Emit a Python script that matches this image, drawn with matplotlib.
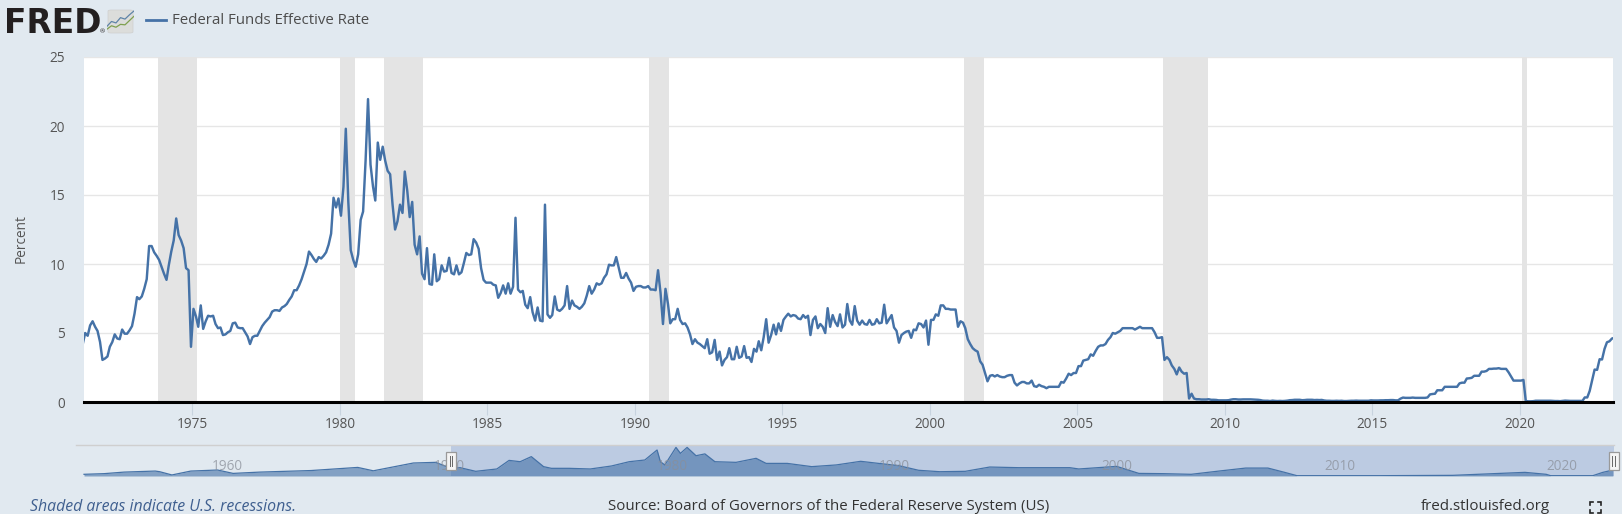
#!/usr/bin/env python3
"""
FRED chart: Federal Funds Effective Rate with recession bands and navigator
"""

import matplotlib
matplotlib.use("Agg")
import matplotlib.pyplot as plt
import matplotlib.dates as mdates
from matplotlib.patches import FancyBboxPatch, Rectangle
from matplotlib.lines import Line2D
import pandas as pd

# monthly values, first row starts at 1971-04, all others Jan..Dec
rates = [
    4.2, 5.0, 4.8, 5.55, 5.85, 5.45, 5.15, 4.35, 3.05,  # 1971
    3.15, 3.3, 4.0, 4.35, 4.9, 4.6, 4.55, 5.25, 4.95, 4.95, 5.2, 5.5,  # 1972
    6.4, 7.6, 7.45, 7.65, 8.2, 8.9, 11.3, 11.3, 10.85, 10.6, 10.3, 9.8,  # 1973
    9.3, 8.85, 9.9, 10.9, 11.7, 13.3, 12.1, 11.7, 11.15, 9.7, 9.55, 4.0,  # 1974
    6.75, 6.2, 5.45, 7.0, 5.3, 5.85, 6.25, 6.2, 6.25, 5.65, 5.35, 5.4,  # 1975
    4.85, 4.9, 5.05, 5.15, 5.7, 5.75, 5.4, 5.35, 5.35, 5.05, 4.75, 4.2,  # 1976
    4.7, 4.8, 4.8, 5.15, 5.5, 5.75, 5.95, 6.15, 6.55, 6.65, 6.65, 6.6,  # 1977
    6.85, 6.95, 7.1, 7.4, 7.65, 8.1, 8.1, 8.45, 8.9, 9.45, 10.0, 10.9,  # 1978
    10.65, 10.35, 10.15, 10.5, 10.4, 10.6, 10.85, 11.4, 12.2, 14.8, 14.1, 14.75,  # 1979
    13.5, 15.6, 19.8, 14.5, 11.0, 10.3, 9.8, 10.7, 13.2, 13.8, 17.5, 21.95,  # 1980
    17.2, 15.6, 14.6, 18.8, 17.55, 18.5, 17.5, 16.75, 16.5, 14.3, 12.5, 13.1,  # 1981
    14.3, 13.7, 16.7, 15.3, 13.4, 14.5, 11.4, 10.7, 12.0, 9.3, 8.9, 11.15,  # 1982
    8.55, 8.5, 10.7, 8.75, 8.9, 9.9, 9.45, 9.5, 10.45, 9.35, 9.25, 9.9,  # 1983
    9.25, 9.4, 10.05, 10.8, 10.65, 10.7, 11.8, 11.55, 11.1, 9.7, 8.85, 8.65,  # 1984
    8.65, 8.65, 8.5, 8.45, 7.55, 7.9, 8.45, 7.85, 8.6, 7.85, 8.35, 13.35,  # 1985
    8.15, 7.95, 8.05, 7.05, 6.8, 7.6, 6.5, 5.9, 6.85, 5.9, 5.85, 14.3,  # 1986
    6.35, 6.1, 6.3, 7.65, 6.7, 6.6, 6.75, 7.0, 8.4, 6.75, 7.35, 7.0,  # 1987
    6.9, 6.75, 6.9, 7.15, 7.7, 8.4, 7.85, 8.15, 8.6, 8.5, 8.6, 9.0,  # 1988
    9.25, 9.95, 9.9, 9.9, 10.5, 9.75, 9.0, 9.0, 9.35, 8.95, 8.65, 8.05,  # 1989
    8.35, 8.4, 8.4, 8.3, 8.3, 8.4, 8.15, 8.15, 8.1, 9.55, 7.9, 5.65,  # 1990
    8.2, 7.1, 5.7, 6.0, 6.0, 6.75, 5.95, 5.65, 5.7, 5.4, 4.9, 4.2,  # 1991
    4.55, 4.3, 4.2, 4.05, 3.9, 4.55, 3.5, 3.6, 4.5, 3.05, 3.65, 2.65,  # 1992
    3.05, 3.25, 3.9, 3.1, 3.1, 4.0, 3.2, 3.3, 4.05, 3.2, 3.25, 2.9,  # 1993
    3.85, 3.65, 4.4, 3.75, 4.7, 6.0, 4.3, 4.85, 5.6, 4.9, 5.7, 5.15,  # 1994
    5.95, 6.2, 6.4, 6.2, 6.3, 6.25, 6.05, 6.0, 6.3, 6.1, 6.25, 4.85,  # 1995
    5.95, 6.2, 5.35, 5.65, 5.45, 5.0, 6.8, 5.45, 6.3, 5.8, 5.5, 6.35,  # 1996
    5.4, 5.6, 7.1, 5.9, 5.6, 6.95, 5.9, 5.6, 5.9, 5.65, 5.6, 5.95,  # 1997
    5.6, 5.65, 6.0, 5.7, 5.75, 7.05, 5.7, 6.0, 6.3, 5.4, 5.15, 4.3,  # 1998
    4.85, 5.0, 5.1, 5.15, 4.65, 5.25, 5.2, 5.7, 5.65, 5.4, 5.9, 4.15,  # 1999
    5.95, 5.95, 6.35, 6.25, 7.0, 7.0, 6.75, 6.75, 6.7, 6.7, 6.7, 5.45,  # 2000
    5.85, 5.75, 5.35, 4.55, 4.2, 3.9, 3.75, 3.65, 2.95, 2.7, 2.1, 1.5,  # 2001
    1.9, 1.95, 1.85, 1.95, 1.85, 1.8, 1.8, 1.9, 1.95, 1.95, 1.4, 1.2,  # 2002
    1.35, 1.45, 1.45, 1.35, 1.35, 1.55, 1.15, 1.1, 1.25, 1.15, 1.1, 1.0,  # 2003
    1.1, 1.1, 1.1, 1.1, 1.1, 1.45, 1.4, 1.7, 2.05, 1.95, 2.1, 2.1,  # 2004
    2.6, 2.6, 3.0, 3.05, 3.1, 3.45, 3.35, 3.7, 4.0, 4.1, 4.1, 4.2,  # 2005
    4.5, 4.7, 5.0, 4.95, 5.05, 5.15, 5.35, 5.35, 5.35, 5.35, 5.35, 5.25,  # 2006
    5.35, 5.45, 5.35, 5.35, 5.35, 5.35, 5.35, 5.05, 4.65, 4.65, 4.7, 3.05,  # 2007
    3.25, 3.05, 2.65, 2.4, 2.0, 2.5, 2.2, 2.05, 2.1, 0.25, 0.6, 0.25,  # 2008
    0.2, 0.2, 0.18, 0.18, 0.18, 0.2, 0.16, 0.16, 0.15, 0.12, 0.12, 0.12,  # 2009
    0.12, 0.13, 0.17, 0.2, 0.2, 0.18, 0.18, 0.19, 0.19, 0.19, 0.19, 0.18,  # 2010
    0.17, 0.16, 0.14, 0.1, 0.09, 0.09, 0.07, 0.1, 0.08, 0.07, 0.08, 0.07,  # 2011
    0.08, 0.1, 0.13, 0.14, 0.16, 0.16, 0.16, 0.13, 0.14, 0.16, 0.16, 0.16,  # 2012
    0.14, 0.15, 0.14, 0.15, 0.11, 0.09, 0.09, 0.08, 0.08, 0.09, 0.08, 0.09,  # 2013
    0.07, 0.07, 0.08, 0.09, 0.09, 0.1, 0.09, 0.09, 0.09, 0.09, 0.09, 0.12,  # 2014
    0.11, 0.11, 0.11, 0.12, 0.12, 0.13, 0.13, 0.14, 0.14, 0.12, 0.12, 0.24,  # 2015
    0.32, 0.3, 0.3, 0.3, 0.32, 0.3, 0.3, 0.3, 0.3, 0.3, 0.33, 0.55,  # 2016
    0.58, 0.6, 0.85, 0.85, 0.85, 1.1, 1.1, 1.1, 1.1, 1.1, 1.1, 1.35,  # 2017
    1.4, 1.4, 1.7, 1.72, 1.75, 1.9, 1.9, 1.9, 2.2, 2.2, 2.25, 2.4,  # 2018
    2.4, 2.42, 2.42, 2.45, 2.4, 2.4, 2.4, 2.15, 1.85, 1.55, 1.55, 1.55,  # 2019
    1.55, 1.6, 0.07, 0.05, 0.05, 0.06, 0.09, 0.09, 0.09, 0.09, 0.09, 0.09,  # 2020
    0.09, 0.08, 0.07, 0.07, 0.06, 0.08, 0.1, 0.09, 0.08, 0.08, 0.08, 0.08,  # 2021
    0.08, 0.08, 0.33, 0.33, 0.8, 1.6, 2.35, 2.33, 3.1, 3.08, 3.85, 4.33,  # 2022
    4.4, 4.6, 4.65,  # 2023
]

recessions = [
    ("1973-11-01", "1975-03-01"),
    ("1980-01-01", "1980-07-01"),
    ("1981-07-01", "1982-11-01"),
    ("1990-07-01", "1991-03-01"),
    ("2001-03-01", "2001-11-01"),
    ("2007-12-01", "2009-06-01"),
    ("2020-02-01", "2020-04-01"),
]

y_ticks = [0, 5, 10, 15, 20, 25]
x_tick_years = [1975, 1980, 1985, 1990, 1995, 2000, 2005, 2010, 2015, 2020]
nav_tick_years = [1960, 1970, 1980, 1990, 2000, 2010, 2020]

# smoothed series in the navigator strip
nav_years = [1954.5, 1955.4, 1956.3, 1957.7, 1957.9, 1958.45, 1959.3, 1960.5, 1961.2,
             1962.4, 1964.7, 1966.8, 1967.5, 1968.4, 1969.3, 1970.3, 1971.0, 1971.4,
             1972.1, 1973.05, 1973.6, 1974.1, 1974.6, 1975.15, 1975.5, 1976.3, 1977.25,
             1978.2, 1979.0, 1979.7, 1980.25, 1980.4, 1980.6, 1981.1, 1981.3, 1981.6,
             1982.0, 1982.4, 1982.85, 1983.8, 1984.7, 1985.15, 1986.1, 1987.2, 1988.3,
             1989.4, 1990.2, 1991.1, 1992.0, 1992.95, 1994.1, 1995.2, 1996.5, 1998.8,
             1999.2, 2000.9, 2001.9, 2003.0, 2004.25, 2005.5, 2006.7, 2007.7, 2008.45,
             2009.0, 2012.75, 2016.0, 2019.25, 2020.2, 2020.4, 2022.3, 2022.75, 2023.2]
nav_rates = [1.3, 1.8, 3.0, 3.8, 3.3, 0.8, 3.8, 4.6, 2.0,
             3.0, 4.2, 6.6, 4.0, 7.0, 10.0, 10.5, 5.9, 6.4,
             3.6, 5.4, 12.0, 11.0, 14.9, 7.2, 5.9, 5.9, 5.4,
             7.7, 11.0, 12.3, 20.0, 11.0, 8.5, 22.0, 17.4, 22.0,
             15.6, 17.0, 11.0, 10.5, 13.6, 9.7, 9.7, 7.2, 8.5,
             11.3, 9.7, 8.0, 4.4, 3.3, 3.6, 6.9, 6.4, 6.4,
             5.4, 7.4, 2.0, 1.8, 1.3, 3.8, 6.1, 6.1, 2.8,
             0.25, 0.25, 0.5, 2.8, 1.3, 0.25, 0.25, 2.8, 4.6]

# the little chart tile next to the logo
icon_x = [0, 1, 2, 3, 4, 5, 6]
icon_blue = [1.2, 2.2, 1.9, 3.0, 2.7, 3.6, 4.4]
icon_green = [0.6, 1.3, 1.0, 1.6, 1.5, 2.4, 3.3]

BG = "#E1E9F0"
LINE = "#4572A7"
W, H = 1622, 517

plt.rcParams["font.family"] = ["Open Sans", "DejaVu Sans"]


def box(left, top, right, bottom):
    """pixel box (y down) to figure fractions"""
    return [left / W, 1 - bottom / H, (right - left) / W, (bottom - top) / H]


def fx(x):
    return x / W


def fy(y):
    return 1 - y / H


def year_date(y):
    return pd.Timestamp("1900-01-01") + pd.Timedelta(days=(y - 1900) * 365.25)


fig = plt.figure(figsize=(W / 100, H / 100), dpi=100, facecolor=BG)

# main chart
ax = fig.add_axes(box(84, 57, 1613, 402))
dates = pd.date_range("1971-04-01", periods=len(rates), freq="MS") + pd.Timedelta(days=14)
for start, end in recessions:
    ax.axvspan(pd.Timestamp(start), pd.Timestamp(end), color="#E4E4E4", lw=0, zorder=2)
ax.plot(dates, rates, color=LINE, lw=1.75, zorder=4)
ax.axhline(0, color="#000000", lw=2.2, clip_on=False, zorder=5)

ax.set_xlim(year_date(1971.325), year_date(2023.156))
ax.set_ylim(0, 25)
ax.set_yticks(y_ticks)
ax.set_xticks([pd.Timestamp(f"{y}-01-01") for y in x_tick_years])
ax.xaxis.set_major_formatter(mdates.DateFormatter("%Y"))
ax.grid(True, axis="y", color="#E6E6E6", lw=1, zorder=1)
ax.set_axisbelow(True)
for side in ax.spines:
    ax.spines[side].set_visible(False)
ax.tick_params(axis="y", length=0, pad=13.5, labelsize=9.8, labelcolor="#555555")
ax.tick_params(axis="x", length=9, width=0.8, color="#C8D4DF", pad=1.5,
               labelsize=9.8, labelcolor="#555555")
fig.text(fx(21), fy(239), "Percent", rotation=90, ha="center", va="center",
         fontsize=9.8, color="#555555")

# navigator strip
nav = fig.add_axes(box(76, 445, 1614, 476), facecolor=BG, zorder=1)
nav.axvspan(1971.0, 2023.25, color="#BCCBE2", lw=0, zorder=1)
nav.fill_between(nav_years, nav_rates, 0, color=LINE, alpha=0.6, lw=0, zorder=2)
nav.plot(nav_years, nav_rates, color=LINE, lw=0.9, zorder=3)
nav.set_xlim(1954.14, 2023.25)
nav.set_ylim(0, 23.85)
nav.set_xticks([])
nav.set_yticks([])
for side in nav.spines:
    nav.spines[side].set_visible(False)
nav.spines["top"].set_visible(True)
nav.spines["top"].set_color("#CFCFCF")
nav.spines["top"].set_linewidth(1)
for y in nav_tick_years:
    nav.annotate(str(y), (y, 0), xytext=(5, 10), textcoords="offset pixels", ha="left",
                 va="center", fontsize=9.8, color="#8A8F99", alpha=0.75, zorder=4,
                 annotation_clip=False)

# navigator handles
for cx in (451, 1613.5):
    fig.add_artist(Rectangle((fx(cx - 5), fy(470)), 10 / W, 18 / H, transform=fig.transFigure,
                             facecolor="#F4F4F4", edgecolor="#999999", lw=0.9, zorder=6))
    for dx in (-1.2, 1.2):
        fig.add_artist(Line2D([fx(cx + dx)] * 2, [fy(456), fy(466)], color="#666666",
                              lw=0.7, zorder=7))

# logo and legend
fig.text(fx(4), fy(33), "FRED", ha="left", va="baseline", fontsize=23.7, fontweight="bold",
         family="DejaVu Sans", color="#231F20")
fig.text(fx(102), fy(33.5), "\u00ae", ha="center", va="baseline", fontsize=4.5, color="#231F20")
fig.add_artist(FancyBboxPatch((fx(108), fy(33)), 25 / W, 23 / H, transform=fig.transFigure,
                              boxstyle="round,pad=0,rounding_size=0.002", facecolor="#DCDDDB",
                              edgecolor="#CFCFCF", lw=0.5))
icon = fig.add_axes(box(107, 10, 134, 32), facecolor="none", zorder=5)
icon.plot(icon_x, icon_blue, color="#5F84A8", lw=0.9)
icon.plot(icon_x, icon_green, color="#7FA04F", lw=0.9)
icon.set_xlim(0, 6)
icon.set_ylim(0, 4.6)
icon.axis("off")

fig.add_artist(Line2D([fx(146), fx(166)], [fy(20), fy(20)], color=LINE, lw=2))
fig.text(fx(172), fy(20), "Federal Funds Effective Rate", ha="left", va="center",
         fontsize=10.85, color="#4D4D4D")

# footer
fig.text(fx(30), fy(507), "Shaded areas indicate U.S. recessions.", ha="left", va="center",
         fontsize=11.45, style="italic", color="#3F5F8F")
fig.text(fx(829), fy(507), "Source: Board of Governors of the Federal Reserve System (US)",
         ha="center", va="center", fontsize=10.85, color="#333333")
fig.text(fx(1485), fy(507), "fred.stlouisfed.org", ha="center", va="center",
         fontsize=10.9, color="#333333")

# fullscreen corners
for x0, dx in ((1590, 3), (1601, -3)):
    for y0, dy in ((502, 3), (513, -3)):
        fig.add_artist(Line2D([fx(x0 + dx), fx(x0), fx(x0)], [fy(y0), fy(y0), fy(y0 + dy)],
                              color="#222222", lw=1.2, solid_joinstyle="miter"))

# the screenshot stops just short of the bottom edge
fig.add_artist(Rectangle((0, 0), 1, 3.5 / H, transform=fig.transFigure, facecolor="#FFFFFF",
                         edgecolor="none", zorder=10))

fig.savefig("out.png", dpi=100, facecolor=BG)
plt.close(fig)
